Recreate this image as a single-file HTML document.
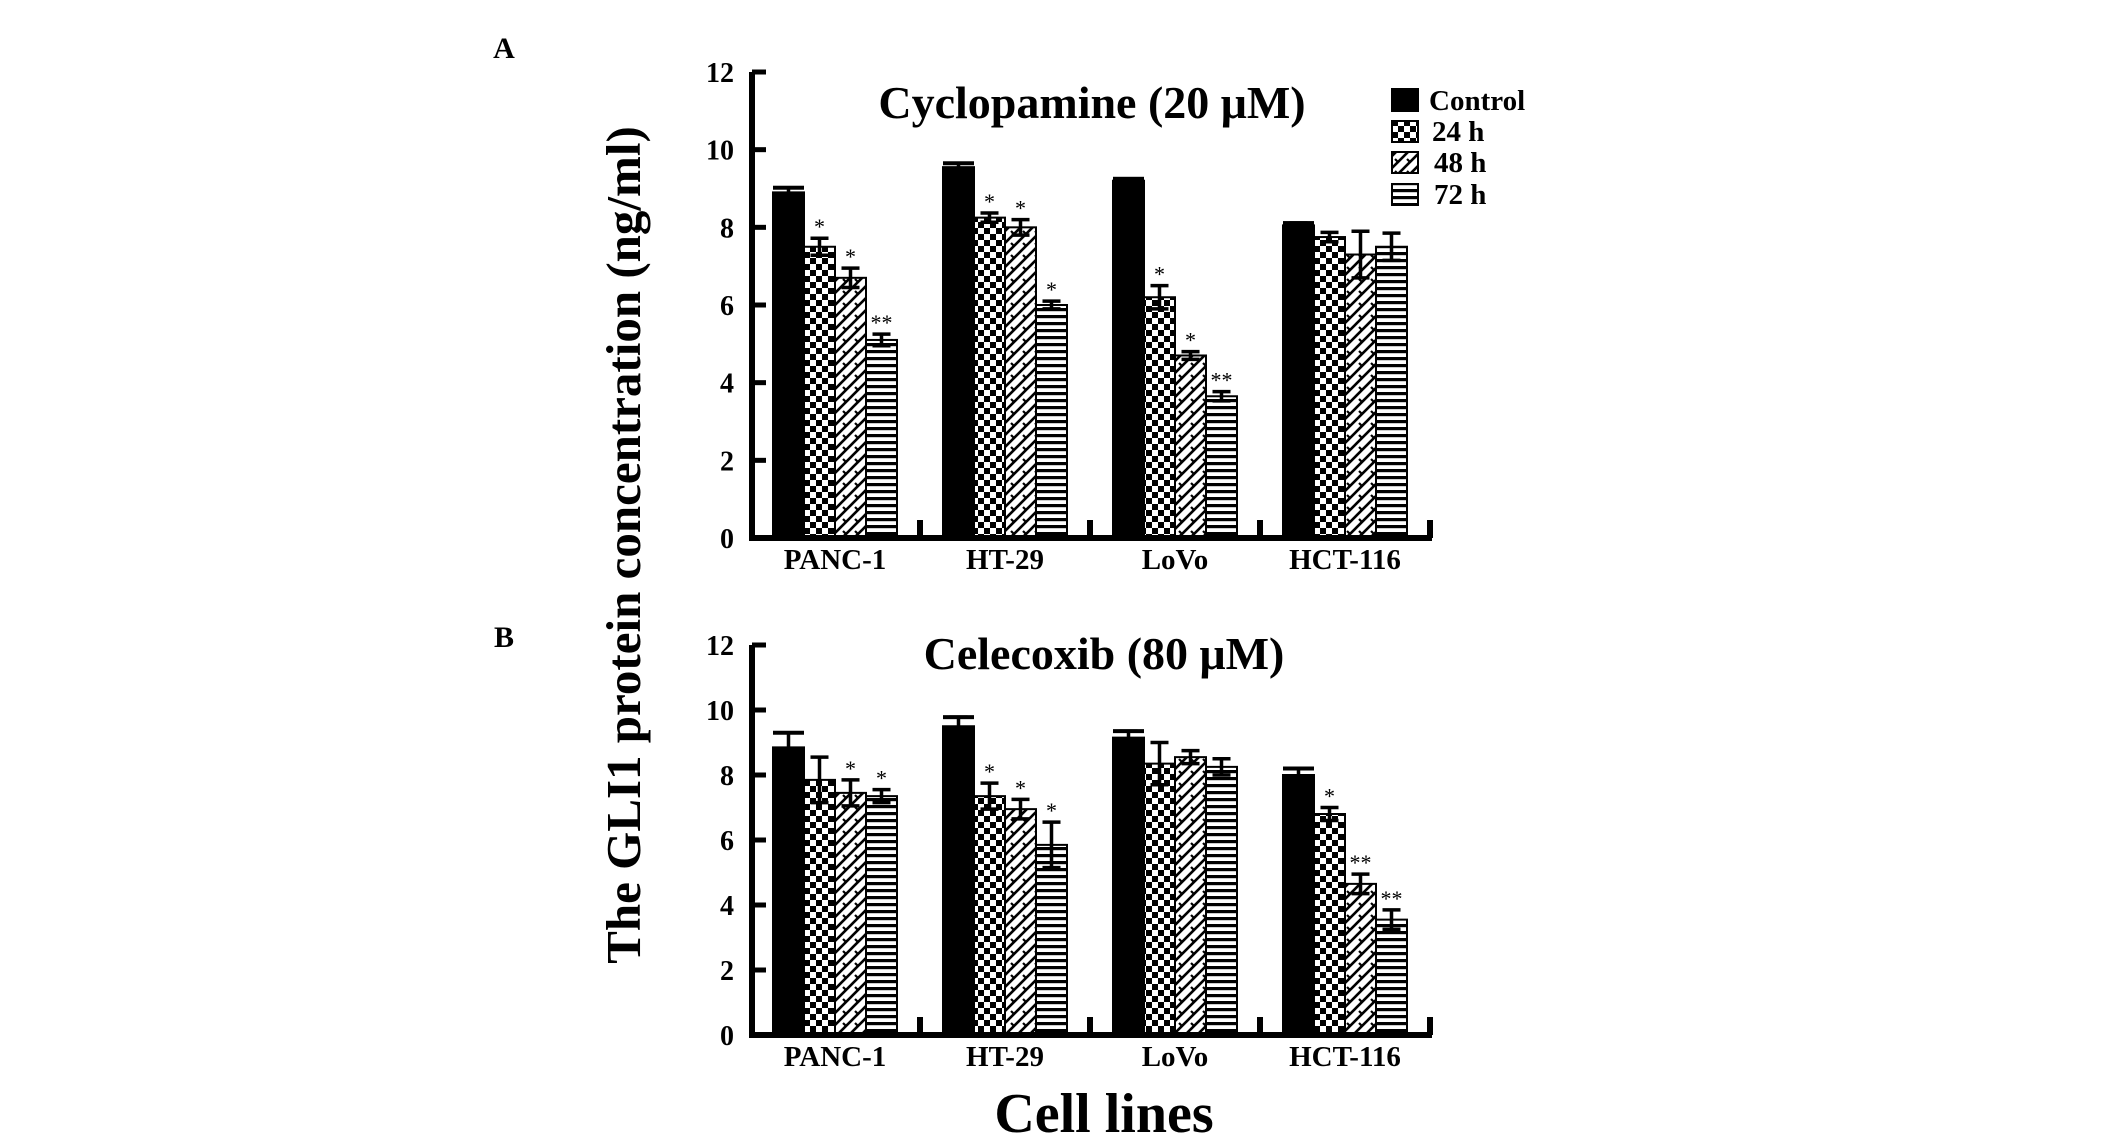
<!DOCTYPE html>
<html><head><meta charset="utf-8"><style>
html,body{margin:0;padding:0;background:#fff;}
svg{display:block;font-family:"Liberation Serif",serif;font-weight:bold;}
</style></head><body>
<svg id="fig" width="2126" height="1142" viewBox="0 0 2126 1142" xmlns="http://www.w3.org/2000/svg">
<defs>
<pattern id="pChk" width="12" height="12" patternUnits="userSpaceOnUse">
<rect width="12" height="12" fill="#fff"/><rect width="6" height="6" fill="#000"/><rect x="6" y="6" width="6" height="6" fill="#000"/></pattern>
<pattern id="pDiag" width="12" height="12" patternUnits="userSpaceOnUse">
<rect width="12" height="12" fill="#fff"/><path d="M-3,15 L15,-3 M-3,3 L3,-3 M9,15 L15,9" stroke="#000" stroke-width="2.6"/><path d="M3,3 L6,6" stroke="#000" stroke-width="2.2"/></pattern>
<pattern id="pHor" width="7" height="7" patternUnits="userSpaceOnUse">
<rect width="7" height="7" fill="#fff"/><rect y="0" width="7" height="3.2" fill="#000"/></pattern>
</defs>
<text x="504" y="58" font-size="30" text-anchor="middle">A</text>
<text x="504" y="647" font-size="30" text-anchor="middle">B</text>
<text transform="translate(640,545) rotate(-90)" font-size="49" text-anchor="middle">The GLI1 protein concentration (ng/ml)</text>
<text x="1104" y="1132" font-size="56" text-anchor="middle">Cell lines</text>
<g>
<rect x="1391" y="88" width="28" height="24" fill="#000"/>
<text x="1429" y="110" font-size="29">Control</text>
<rect x="1392" y="121" width="26" height="21" fill="url(#pChk)" stroke="#000" stroke-width="2"/>
<text x="1432" y="141" font-size="29">24 h</text>
<rect x="1392" y="152" width="26" height="21" fill="url(#pDiag)" stroke="#000" stroke-width="2"/>
<text x="1434" y="172" font-size="29">48 h</text>
<rect x="1392" y="184" width="26" height="21" fill="url(#pHor)" stroke="#000" stroke-width="2"/>
<text x="1434" y="204" font-size="29">72 h</text>
</g>
</svg>
<script>
const categories = ["PANC-1", "HT-29", "LoVo", "HCT-116"];
const seriesNames = ["Control", "24 h", "48 h", "72 h"];
const yTicks = [0, 2, 4, 6, 8, 10, 12];
// Panel A: Cyclopamine
const cycloControl = [8.9, 9.55, 9.2, 8.05];
const cyclo24 = [7.5, 8.25, 6.2, 7.75];
const cyclo48 = [6.7, 8.0, 4.7, 7.3];
const cyclo72 = [5.1, 6.0, 3.65, 7.5];
const cycloErrControl = [0.12, 0.1, 0.05, 0.06];
const cycloErr24 = [0.22, 0.12, 0.3, 0.12];
const cycloErr48 = [0.25, 0.2, 0.1, 0.6];
const cycloErr72 = [0.15, 0.1, 0.12, 0.35];
const cycloStars = [["", "*", "*", "**"], ["", "*", "*", "*"], ["", "*", "*", "**"], ["", "", "", ""]];
// Panel B: Celecoxib
const celeControl = [8.85, 9.5, 9.15, 8.0];
const cele24 = [7.85, 7.35, 8.35, 6.8];
const cele48 = [7.45, 6.95, 8.55, 4.65];
const cele72 = [7.35, 5.85, 8.25, 3.55];
const celeErrControl = [0.45, 0.28, 0.2, 0.2];
const celeErr24 = [0.7, 0.4, 0.65, 0.2];
const celeErr48 = [0.4, 0.3, 0.2, 0.3];
const celeErr72 = [0.2, 0.7, 0.25, 0.3];
const celeStars = [["", "", "*", "*"], ["", "*", "*", "*"], ["", "", "", ""], ["", "*", "**", "**"]];

const NS = "http://www.w3.org/2000/svg";
const svg = document.getElementById("fig");
const fills = ["#000", "url(#pChk)", "url(#pDiag)", "url(#pHor)"];
function mk(tag, attrs, parent) {
  const e = document.createElementNS(NS, tag);
  for (const k in attrs) e.setAttribute(k, attrs[k]);
  parent.appendChild(e);
  return e;
}
function drawPanel(id, title, titleX, titleY, y0, y12, vals, errs, stars) {
  const g = mk("g", {}, svg);
  
  
  const axX = 752, slot = 170, barW = 31, off = 21, xEnd = axX + 4 * slot;
  const y = v => y0 - (v / 12) * (y0 - y12);
  const t = mk("text", {x: titleX, y: titleY, "font-size": 46, "text-anchor": "middle"}, g);
  t.textContent = title;
  
  
  for (let c = 0; c < categories.length; c++) {
    for (let s = 0; s < 4; s++) {
      const v = vals[s][c], e = errs[s][c];
      const bx = axX + c * slot + off + s * barW;
      const r = mk("rect", {x: bx, y: y(v), width: barW, height: y0 - y(v), fill: fills[s], stroke: "#000", "stroke-width": 2}, g);
      
      
      const cx = bx + barW / 2;
      const eb = mk("path", {d: `M${cx},${y(v - e)} L${cx},${y(v + e)} M${cx - 9},${y(v + e)} L${cx + 9},${y(v + e)} M${cx - 9},${y(v - e)} L${cx + 9},${y(v - e)}`, stroke: "#000", "stroke-width": 3.5, fill: "none"}, g);
      
      
      if (s === 0) {
        const cap = mk("rect", {x: bx, y: y(v + e) - 2, width: barW, height: 4, fill: "#000"}, g);
        
        
      }
      const st = stars[c][s];
      if (st) {
        const tx = mk("text", {x: cx, y: y(v + e) - 4, "font-size": 22, "font-weight": "normal", "text-anchor": "middle"}, g);
        tx.textContent = st;
        
        
      }
    }
    const lab = mk("text", {x: axX + c * slot + off + 2 * barW, y: y0 + 31, "font-size": 29, "text-anchor": "middle"}, g);
    lab.textContent = categories[c];
    
    
    const mt = mk("rect", {x: axX + (c + 1) * slot - 5, y: y0 - 18, width: 6, height: 18, fill: "#000"}, g);
    
    
  }
  const ax = mk("path", {d: `M${axX},${y12} L${axX},${y0} L${xEnd},${y0}`, stroke: "#000", "stroke-width": 6, fill: "none"}, g);
  
  
  for (const tv of yTicks) {
    const tk = mk("rect", {x: axX, y: y(tv) - 2.5, width: 14, height: 5, fill: "#000"}, g);
    
    
    const tl = mk("text", {x: axX - 18, y: y(tv) + 10, "font-size": 28, "text-anchor": "end"}, g);
    tl.textContent = tv;
    
    
  }
}
drawPanel("panel-a-cyclopamine", "Cyclopamine (20 μM)", 1092, 118, 538, 72,
  [cycloControl, cyclo24, cyclo48, cyclo72],
  [cycloErrControl, cycloErr24, cycloErr48, cycloErr72], cycloStars);
drawPanel("panel-b-celecoxib", "Celecoxib (80 μM)", 1104, 669, 1035, 645,
  [celeControl, cele24, cele48, cele72],
  [celeErrControl, celeErr24, celeErr48, celeErr72], celeStars);
</script>
</body></html>
